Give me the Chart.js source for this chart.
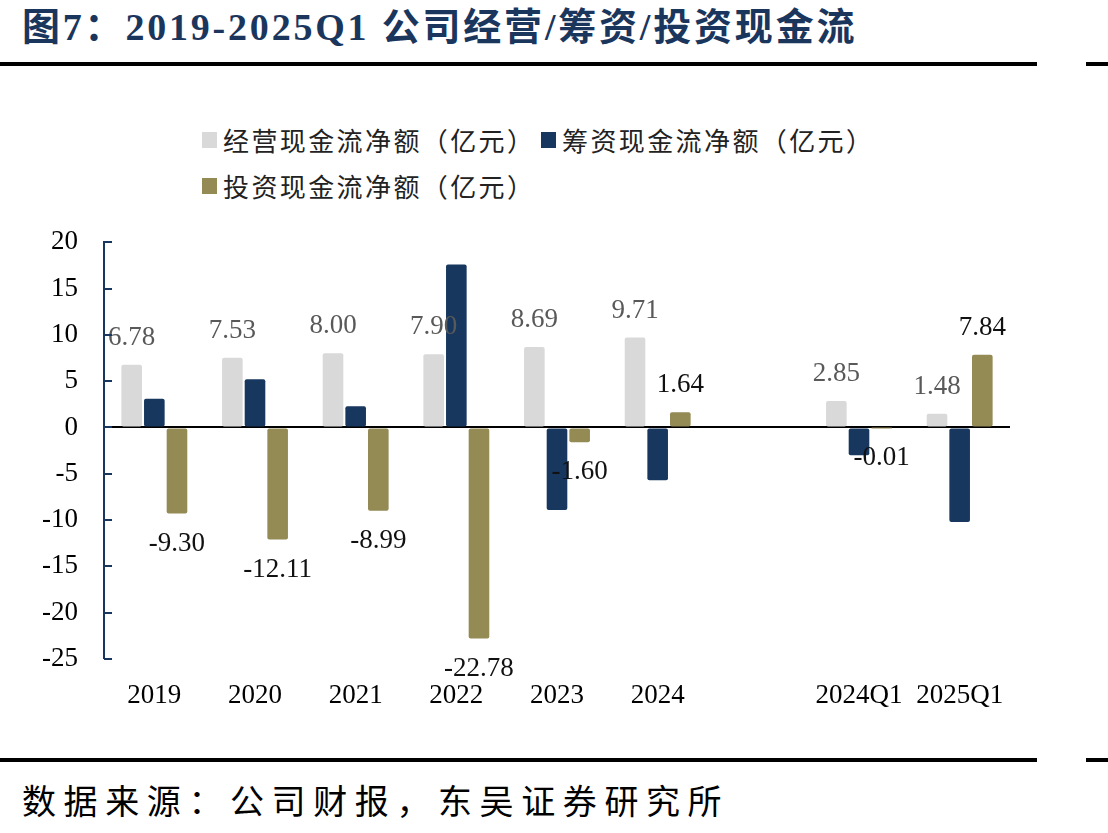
<!DOCTYPE html>
<html>
<head>
<meta charset="utf-8">
<script src="https://cdn.jsdelivr.net/npm/chart.js@4/dist/chart.umd.min.js"></script>
<style>
  html, body { margin:0; padding:0; background:#fff; }
  body { width:1108px; height:833px; position:relative; overflow:hidden; }
  #title { position:absolute; left:22px; top:4px; height:46px; line-height:46px; font-family:"Liberation Serif","Noto Sans CJK SC",serif; font-weight:bold; font-size:38px; color:#1b365d; letter-spacing:2.8px; white-space:nowrap; }
  .rule { position:absolute; height:4px; background:#000; }
  #source { position:absolute; left:22px; top:778px; line-height:44px; font-family:"Noto Sans CJK SC",sans-serif; font-size:34px; letter-spacing:7.6px; color:#000; white-space:nowrap; }
  .leg { position:absolute; height:30px; line-height:30px; font-family:"Noto Sans CJK SC",sans-serif; font-size:26px; letter-spacing:2.4px; color:#222; white-space:nowrap; }
  .leg i { position:absolute; left:0; top:7px; width:15px; height:16px; }
  .leg span { position:absolute; left:21px; top:0; }
  #wrap { position:absolute; left:0; top:200px; width:1108px; height:520px; }
</style>
</head>
<body>
<div id="title">图7：2019-2025Q1 公司经营/筹资/投资现金流</div>
<div class="rule" style="left:0;top:62px;width:1037px"></div>
<div class="rule" style="left:1086px;top:62px;width:22px"></div>
<div id="legend"></div>
<div id="wrap"><canvas id="c" width="1108" height="520"></canvas></div>
<div class="rule" style="left:0;top:758px;width:1037px"></div>
<div class="rule" style="left:1086px;top:758px;width:22px"></div>
<div id="source">数据来源：公司财报，东吴证券研究所</div>
<script>
const categories = ['2019','2020','2021','2022','2023','2024','','2024Q1','2025Q1'];
const seriesNames = ['经营现金流净额（亿元）','筹资现金流净额（亿元）','投资现金流净额（亿元）'];
const operating = [6.78, 7.53, 8.00, 7.90, 8.69, 9.71, null, 2.85, 1.48];
const financing = [3.1, 5.2, 2.3, 17.6, -8.9, -5.7, null, -3.0, -10.2];
const investing = [-9.30, -12.11, -8.99, -22.78, -1.60, 1.64, null, -0.01, 7.84];
const colors = ['#d9d9d9', '#17375e', '#948a54'];
const yMin = -25, yMax = 20, yStep = 5;

// HTML legend built from the series names/colors
const legendPos = [[202,125],[541,125],[202,171]];
const legend = document.getElementById('legend');
seriesNames.forEach((n,i)=>{
  const d = document.createElement('div');
  d.className='leg';
  d.style.left = legendPos[i][0]+'px';
  d.style.top = legendPos[i][1]+'px';
  d.innerHTML = '<i style="background:'+colors[i]+'"></i><span>'+n+'</span>';
  legend.appendChild(d);
});

const numFont = '"Liberation Serif", "Times New Roman", serif';

const insideTicks = {
  id:'insideTicks',
  afterDraw(chart){
    const y = chart.scales.y, ctx = chart.ctx;
    ctx.save();
    ctx.strokeStyle = '#17375e';
    ctx.lineWidth = 2;
    y.ticks.forEach(t=>{
      const py = Math.round(y.getPixelForValue(t.value));
      ctx.beginPath();
      ctx.moveTo(y.right, py);
      ctx.lineTo(y.right + 8, py);
      ctx.stroke();
    });
    ctx.restore();
  }
};

const valueLabels = {
  id:'valueLabels',
  afterDatasetsDraw(chart){
    const ctx = chart.ctx;
    ctx.save();
    ctx.font = '27px ' + numFont;
    ctx.textAlign = 'center';
    ctx.textBaseline = 'middle';
    [0,2].forEach(di=>{
      const meta = chart.getDatasetMeta(di);
      const data = chart.data.datasets[di].data;
      ctx.fillStyle = di===0 ? '#595959' : '#111';
      meta.data.forEach((bar,i)=>{
        const v = data[i];
        if (v===null || v===undefined) return;
        const y = v >= 0 ? bar.y - 27 : bar.y + 30;
        ctx.fillText(v.toFixed(2), bar.x, y);
      });
    });
    ctx.restore();
  }
};

new Chart(document.getElementById('c'), {
  type:'bar',
  data:{
    labels: categories,
    datasets:[
      {label:seriesNames[0], data:operating, backgroundColor:colors[0]},
      {label:seriesNames[1], data:financing, backgroundColor:colors[1]},
      {label:seriesNames[2], data:investing, backgroundColor:colors[2]}
    ]
  },
  options:{
    responsive:false,
    animation:false,
    devicePixelRatio:1,
    layout:{padding:{top:40,right:98,left:0,bottom:0}},
    datasets:{bar:{categoryPercentage:0.675, barPercentage:0.91, borderRadius:2, borderSkipped:false}},
    plugins:{legend:{display:false}, tooltip:{enabled:false}, title:{display:false}},
    scales:{
      x:{
        grid:{display:false, drawTicks:false},
        border:{display:false},
        ticks:{autoSkip:false, maxRotation:0, padding:21, color:'#000', font:{family:numFont, size:27}},
        afterFit(s){ s.height = 61; }
      },
      y:{
        min:yMin, max:yMax,
        grid:{
          drawTicks:false,
          color:c=> c.tick && c.tick.value===0 ? '#000' : 'rgba(0,0,0,0)',
          lineWidth:c=> c.tick && c.tick.value===0 ? 2 : 0
        },
        border:{display:true, color:'#17375e', width:2},
        ticks:{stepSize:yStep, padding:26, color:'#000', font:{family:numFont, size:27}},
        afterFit(s){ s.width = 104; }
      }
    }
  },
  plugins:[insideTicks, valueLabels]
});
</script>
</body>
</html>
